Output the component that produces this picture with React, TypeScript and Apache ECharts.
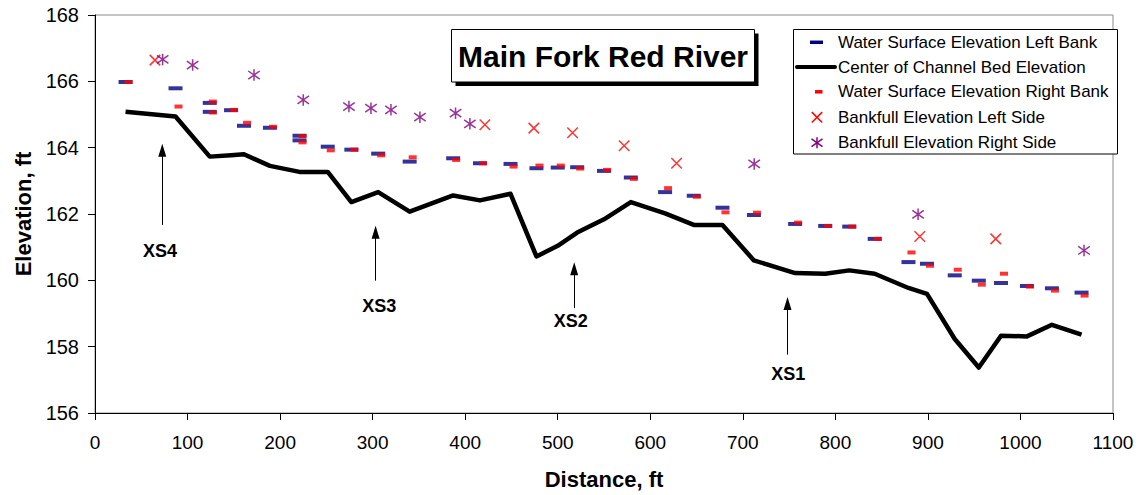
import React, { useEffect, useRef } from 'react';
import * as echarts from 'echarts';

// ---- Data ----
const stations = [33, 87, 124, 124, 147, 161, 189, 221, 221, 251.5, 277, 306, 340, 387, 416, 449, 477, 500, 521, 550, 579, 616, 647, 678, 712, 756.5, 789, 815, 842.5, 879, 899, 929, 955, 979, 1007, 1034, 1066];
const wseLeft = [165.98, 165.79, 165.35, 165.08, 165.13, 164.66, 164.60, 164.36, 164.22, 164.03, 163.94, 163.82, 163.58, 163.68, 163.53, 163.51, 163.38, 163.40, 163.41, 163.30, 163.10, 162.66, 162.55, 162.19, 161.97, 161.70, 161.64, 161.62, 161.25, 160.55, 160.50, 160.15, 159.99, 159.92, 159.83, 159.76, 159.63];
const wseRight = [165.98, 165.24, 165.39, 165.06, 165.14, 164.75, 164.63, 164.35, 164.16, 163.92, 163.94, 163.77, 163.71, 163.63, 163.53, 163.43, 163.46, 163.46, 163.37, 163.33, 163.06, 162.78, 162.52, 162.05, 162.04, 161.74, 161.64, 161.62, 161.25, 160.84, 160.44, 160.32, 159.87, 160.20, 159.81, 159.69, 159.54];
const bedElev = [165.08, 164.94, 163.73, 163.73, 163.77, 163.80, 163.45, 163.27, 163.27, 163.27, 162.36, 162.66, 162.07, 162.56, 162.41, 162.61, 160.72, 161.04, 161.44, 161.84, 162.36, 162.02, 161.67, 161.67, 160.60, 160.22, 160.20, 160.30, 160.20, 159.77, 159.59, 158.23, 157.37, 158.33, 158.31, 158.66, 158.36];

const bankLeftX = [64.8, 421.3, 474.2, 516, 571.8, 628.4, 891.2, 973.3];
const bankLeftY = [166.64, 164.69, 164.59, 164.45, 164.06, 163.53, 161.32, 161.25];
const bankRightX = [73.1, 105.5, 171.8, 225, 274.4, 298.2, 319.8, 351.1, 389.6, 405.1, 712.3, 889.4, 1068.7];
const bankRightY = [166.66, 166.49, 166.19, 165.44, 165.24, 165.19, 165.14, 164.92, 165.04, 164.72, 163.51, 161.99, 160.90];

// Cross-section annotations (arrows + labels), in data units
const xsNames = ['XS4', 'XS3', 'XS2', 'XS1'];
const xsArrowX = [72.7, 303.2, 517.8, 748.3];
const xsArrowBase = [161.67, 159.99, 159.16, 157.76];
const xsArrowTip = [163.92, 161.45, 160.35, 159.30];
const xsLabelX = [70.2, 307.1, 514.2, 749];
const xsLabelY = [160.87, 159.23, 158.76, 157.18];

const seriesNames = [
  'Water Surface Elevation Left Bank',
  'Center of Channel Bed Elevation',
  'Water Surface Elevation Right Bank',
  'Bankfull Elevation Left Side',
  'Bankfull Elevation Right Side',
];
const chartTitle = 'Main Fork Red River';
const xAxisName = 'Distance, ft';
const yAxisName = 'Elevation, ft';

const FONT = '"Liberation Sans", Arial, Helvetica, sans-serif';
const NAVY = '#000080';
const RED = '#ff0000';
const PURPLE = '#800080';

const X_PATH = 'path://M0,0L10,10M10,0L0,10';
const STAR_PATH = 'path://M0,1.5L10,8.5M10,1.5L0,8.5M5,0L5,10';

function buildLegend() {
  const boxX = 793.5, boxY = 29.5, boxW = 324, boxH = 124.5;
  const rowY = [42.3, 67.0, 91.8, 117.3, 142.8];
  const iconCx = 817;
  const els: any[] = [
    { type: 'rect', shape: { x: boxX, y: boxY, width: boxW, height: boxH }, style: { fill: '#fff', stroke: '#000', lineWidth: 1 }, z: 100 },
  ];
  seriesNames.forEach((name, i) => {
    els.push({ type: 'text', x: 838, y: rowY[i], z: 101, style: { text: name, fontSize: 17, fontFamily: FONT, fill: '#000', align: 'left', verticalAlign: 'middle' } });
  });
  // icons
  els.push({ type: 'rect', z: 101, shape: { x: iconCx - 7, y: rowY[0] - 1.75, width: 13, height: 3.5 }, style: { fill: NAVY } });
  els.push({ type: 'line', z: 101, shape: { x1: 797, y1: rowY[1], x2: 835, y2: rowY[1] }, style: { stroke: '#000', lineWidth: 4, lineCap: 'round' } });
  els.push({ type: 'rect', z: 101, shape: { x: iconCx - 2, y: rowY[2] - 1.75, width: 7.5, height: 3.5 }, style: { fill: RED } });
  const s = 5.2;
  els.push({ type: 'line', z: 101, shape: { x1: iconCx - s, y1: rowY[3] - s, x2: iconCx + s, y2: rowY[3] + s }, style: { stroke: RED, lineWidth: 1.5 } });
  els.push({ type: 'line', z: 101, shape: { x1: iconCx + s, y1: rowY[3] - s, x2: iconCx - s, y2: rowY[3] + s }, style: { stroke: RED, lineWidth: 1.5 } });
  const a = 5.5;
  els.push({ type: 'line', z: 101, shape: { x1: iconCx - a, y1: rowY[4] - a * 0.7, x2: iconCx + a, y2: rowY[4] + a * 0.7 }, style: { stroke: PURPLE, lineWidth: 1.5 } });
  els.push({ type: 'line', z: 101, shape: { x1: iconCx + a, y1: rowY[4] - a * 0.7, x2: iconCx - a, y2: rowY[4] + a * 0.7 }, style: { stroke: PURPLE, lineWidth: 1.5 } });
  els.push({ type: 'line', z: 101, shape: { x1: iconCx, y1: rowY[4] - a, x2: iconCx, y2: rowY[4] + a }, style: { stroke: PURPLE, lineWidth: 1.5 } });
  return els;
}

function buildTitle() {
  const x = 451.5, y = 29.5, w = 303, h = 52.5;
  return [
    { type: 'rect', z: 100, shape: { x: x + 4, y: y + 4, width: w, height: h }, style: { fill: '#000' } },
    { type: 'rect', z: 101, shape: { x, y, width: w, height: h }, style: { fill: '#fff', stroke: '#000', lineWidth: 1 } },
    { type: 'text', z: 102, x: x + w / 2, y: y + h / 2 + 0.5, style: { text: chartTitle, fontSize: 30, fontWeight: 'bold', fontFamily: FONT, fill: '#000', align: 'center', verticalAlign: 'middle' } },
  ];
}

export default function App() {
  const ref = useRef<HTMLDivElement>(null);

  useEffect(() => {
    if (!ref.current) return;
    const chart = echarts.init(ref.current, undefined, { renderer: 'svg' });

    const option: any = {
      animation: false,
      backgroundColor: '#fff',
      grid: { left: 95, right: 28, top: 15, bottom: 82, show: true, borderColor: '#8a8a8a', borderWidth: 1, backgroundColor: '#fff' },
      xAxis: {
        type: 'value', min: 0, max: 1100, interval: 100,
        name: xAxisName, nameLocation: 'middle', nameGap: 55,
        nameTextStyle: { fontSize: 22, fontWeight: 'bold', fontFamily: FONT, color: '#000' },
        axisLine: { show: true, onZero: false, lineStyle: { color: '#000', width: 1 } },
        axisTick: { show: true, inside: false, length: 7, lineStyle: { color: '#000' } },
        axisLabel: { fontSize: 19, fontFamily: FONT, color: '#000', margin: 20, formatter: (v: number) => String(v) },
        splitLine: { show: false },
      },
      yAxis: {
        type: 'value', min: 156, max: 168, interval: 2,
        name: yAxisName, nameLocation: 'middle', nameGap: 61, nameRotate: 90,
        nameTextStyle: { fontSize: 22, fontWeight: 'bold', fontFamily: FONT, color: '#000' },
        axisLine: { show: true, onZero: false, lineStyle: { color: '#000', width: 1 } },
        axisTick: { show: true, inside: false, length: 7, lineStyle: { color: '#000' } },
        axisLabel: { fontSize: 20, fontFamily: FONT, color: '#000', margin: 16, formatter: (v: number) => String(v) },
        splitLine: { show: false },
      },
      series: [
        {
          name: seriesNames[1], type: 'line', z: 2,
          data: stations.map((x, i) => [x, bedElev[i]]),
          showSymbol: false, symbol: 'none',
          lineStyle: { color: '#000', width: 4.5, join: 'round' },
          itemStyle: { color: '#000' },
          markLine: {
            silent: true, animation: false,
            symbol: ['none', 'triangle'], symbolSize: [8, 13],
            label: { show: false },
            lineStyle: { color: '#000', width: 1, type: 'solid' },
            itemStyle: { color: '#000' },
            emphasis: { disabled: true },
            data: xsArrowX.map((x, i) => [
              { coord: [x, xsArrowBase[i]] },
              { coord: [x, xsArrowTip[i]] },
            ]),
          },
        },
        {
          name: seriesNames[0], type: 'scatter', z: 3,
          data: stations.map((x, i) => [x, wseLeft[i]]),
          symbol: 'rect', symbolSize: [14, 4],
          itemStyle: { color: NAVY },
        },
        {
          name: seriesNames[2], type: 'scatter', z: 4,
          data: stations.map((x, i) => [x, wseRight[i]]),
          symbol: 'rect', symbolSize: [8, 4], symbolOffset: [3, 0],
          itemStyle: { color: RED },
        },
        {
          name: seriesNames[3], type: 'scatter', z: 5,
          data: bankLeftX.map((x, i) => [x, bankLeftY[i]]),
          symbol: X_PATH, symbolSize: 10.5,
          itemStyle: { color: 'rgba(0,0,0,0)', borderColor: RED, borderWidth: 1.5 },
        },
        {
          name: seriesNames[4], type: 'scatter', z: 5,
          data: bankRightX.map((x, i) => [x, bankRightY[i]]),
          symbol: STAR_PATH, symbolSize: 11.5,
          itemStyle: { color: 'rgba(0,0,0,0)', borderColor: PURPLE, borderWidth: 1.5 },
        },
        {
          name: 'annotations', type: 'scatter', z: 6, silent: true,
          data: xsLabelX.map((x, i) => ({ value: [x, xsLabelY[i]], name: xsNames[i] })),
          symbol: 'circle', symbolSize: 1,
          itemStyle: { color: 'rgba(0,0,0,0)' },
          label: { show: true, position: 'inside', formatter: '{b}', fontSize: 18, fontWeight: 'bold', fontFamily: FONT, color: '#000', textBorderWidth: 0, opacity: 1 },
        },
      ],
      graphic: [...buildTitle(), ...buildLegend()],
    };

    chart.setOption(option);
    return () => chart.dispose();
  }, []);

  return <div ref={ref} style={{ position: 'fixed', left: 0, top: 0, width: 1141, height: 495, background: '#fff' }} />;
}
